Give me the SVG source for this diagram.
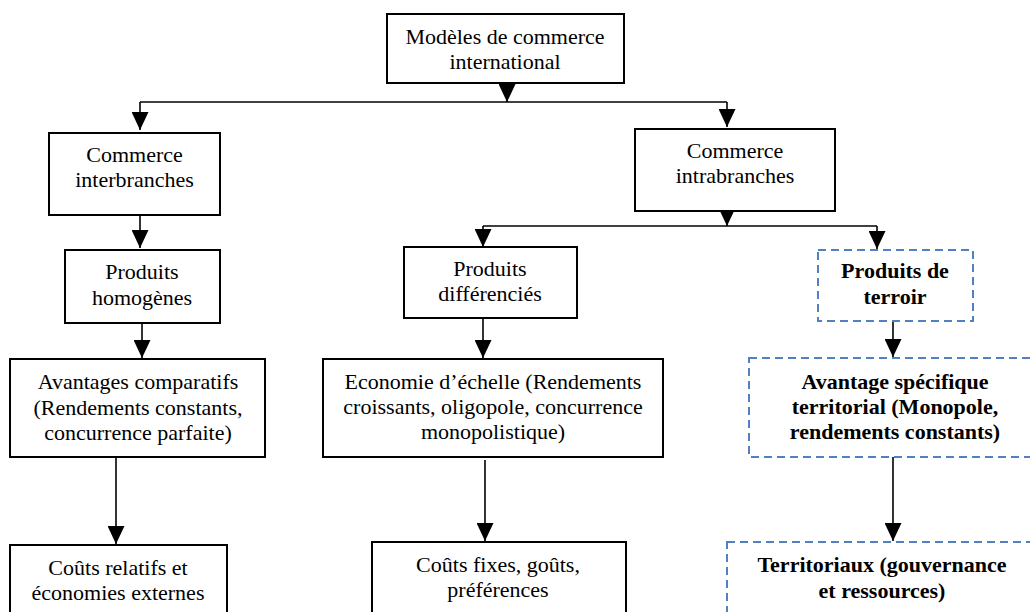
<svg xmlns="http://www.w3.org/2000/svg" width="1030" height="612" viewBox="0 0 1030 612">
<defs>
<marker id="ah" viewBox="0 0 18 17" refX="18" refY="8.5" markerWidth="18" markerHeight="17" markerUnits="userSpaceOnUse" orient="auto">
<path d="M0,0 L18,8.5 L0,17 z" fill="#000"/>
</marker>
<style>
.box{fill:#fff;stroke:#000;stroke-width:2}
.dbox{fill:#fff;stroke:#4f81c4;stroke-width:2;stroke-dasharray:8 5}
.t{font-family:"Liberation Serif","Times New Roman",serif;font-size:22px;fill:#000;text-anchor:middle}
.b{font-weight:bold}
.c{fill:none;stroke:#000;stroke-width:1.6}
.ca{fill:none;stroke:#000;stroke-width:1.6;marker-end:url(#ah)}
</style>
</defs>
<rect width="1030" height="612" fill="#fff"/>
<g id="connectors">
<line class="ca" x1="507" y1="83" x2="507" y2="102"/>
<polyline class="c" points="140,102 727,102"/>
<line class="ca" x1="140" y1="102" x2="140" y2="130"/>
<line class="ca" x1="727" y1="102" x2="727" y2="127"/>
<line class="ca" x1="140" y1="215" x2="140" y2="248"/>
<line class="ca" x1="727" y1="211" x2="727" y2="226"/>
<polyline class="c" points="483,226 877,226"/>
<line class="ca" x1="483" y1="226" x2="483" y2="247"/>
<line class="ca" x1="877" y1="226" x2="877" y2="249"/>
<line class="ca" x1="142" y1="323" x2="142" y2="358"/>
<line class="ca" x1="483" y1="318" x2="483" y2="358"/>
<line class="ca" x1="893" y1="321" x2="893" y2="357"/>
<line class="ca" x1="116" y1="457" x2="116" y2="544"/>
<line class="ca" x1="485" y1="460" x2="485" y2="541"/>
<line class="ca" x1="893" y1="457" x2="893" y2="541"/>
</g>
<g id="n-modeles">
<rect class="box" x="387" y="14" width="237" height="69"/>
<text class="t" x="505" y="44">Modèles de commerce</text>
<text class="t" x="505" y="69">international</text>
</g>
<g id="n-inter">
<rect class="box" x="49" y="133" width="171" height="82"/>
<text class="t" x="134.5" y="162">Commerce</text>
<text class="t" x="134.5" y="187">interbranches</text>
</g>
<g id="n-intra">
<rect class="box" x="635" y="129" width="200" height="82"/>
<text class="t" x="735" y="158">Commerce</text>
<text class="t" x="735" y="183">intrabranches</text>
</g>
<g id="n-homogenes">
<rect class="box" x="65" y="250" width="155" height="73"/>
<text class="t" x="142" y="279">Produits</text>
<text class="t" x="142" y="305">homogènes</text>
</g>
<g id="n-differencies">
<rect class="box" x="404" y="247" width="173" height="71"/>
<text class="t" x="490" y="276">Produits</text>
<text class="t" x="490" y="301">différenciés</text>
</g>
<g id="n-terroir">
<rect class="dbox" x="818" y="250" width="155" height="71"/>
<text class="t b" x="895" y="278">Produits de</text>
<text class="t b" x="895" y="304">terroir</text>
</g>
<g id="n-avantages">
<rect class="box" x="10" y="359" width="255" height="98"/>
<text class="t" x="138" y="389">Avantages comparatifs</text>
<text class="t" x="138" y="415">(Rendements constants,</text>
<text class="t" x="138" y="440">concurrence parfaite)</text>
</g>
<g id="n-economie">
<rect class="box" x="323" y="359" width="340" height="98"/>
<text class="t" x="493" y="389">Economie d’échelle (Rendements</text>
<text class="t" x="493" y="414">croissants, oligopole, concurrence</text>
<text class="t" x="493" y="439">monopolistique)</text>
</g>
<g id="n-specifique">
<rect class="dbox" x="749" y="358" width="300" height="99"/>
<text class="t b" x="895" y="389">Avantage spécifique</text>
<text class="t b" x="895" y="414">territorial (Monopole,</text>
<text class="t b" x="895" y="439">rendements constants)</text>
</g>
<g id="n-couts-relatifs">
<rect class="box" x="10" y="545" width="217" height="80"/>
<text class="t" x="118" y="575">Coûts relatifs et</text>
<text class="t" x="118" y="600">économies externes</text>
</g>
<g id="n-couts-fixes">
<rect class="box" x="372" y="542" width="254" height="80"/>
<text class="t" x="498" y="572">Coûts fixes, goûts,</text>
<text class="t" x="498" y="597">préférences</text>
</g>
<g id="n-territoriaux">
<rect class="dbox" x="727" y="542" width="320" height="80"/>
<text class="t b" x="882" y="572">Territoriaux (gouvernance</text>
<text class="t b" x="882" y="598">et ressources)</text>
</g>
</svg>
